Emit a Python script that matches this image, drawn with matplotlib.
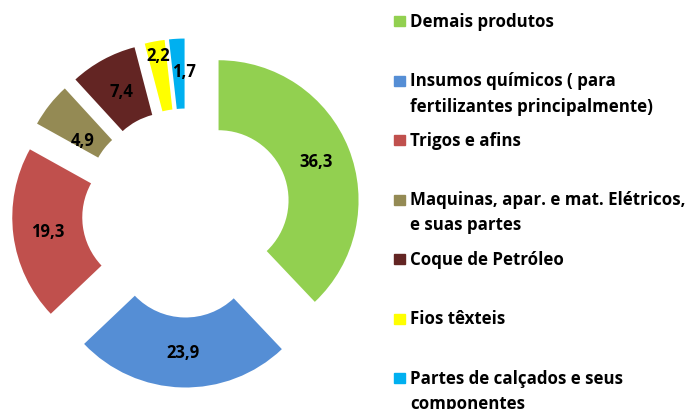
import numpy as np
import matplotlib.pyplot as plt
from matplotlib.patches import Rectangle

categorias = ["Demais produtos",
              "Insumos químicos ( para\nfertilizantes principalmente)",
              "Trigos e afins",
              "Maquinas, apar. e mat. Elétricos,\ne suas partes",
              "Coque de Petróleo",
              "Fios têxteis",
              "Partes de calçados e seus\ncomponentes"]
valores = [36.3, 23.9, 19.3, 4.9, 7.4, 2.2, 1.7]
cores = ["#92D050", "#558ED5", "#C0504D", "#948A54", "#632523", "#FFFF00", "#00B0F0"]

plt.rcParams['font.family'] = ['Open Sans', 'DejaVu Sans']

W, H = 690, 410
fig = plt.figure(figsize=(W / 100, H / 100), dpi=100)
ax = fig.add_axes([0, 0, 1, 1])

# donut explodido (unidades em pixels)
R, larg, expl = 140, 70, 34.5
centro = (186.5, H - 214)
wedges, _ = ax.pie(valores, colors=cores, radius=R, center=centro,
                   startangle=90, counterclock=False, explode=[expl] * len(valores),
                   wedgeprops=dict(width=larg, linewidth=0), frame=True)
ax.set_xlim(0, W)
ax.set_ylim(0, H)
ax.axis('off')

# rótulos no meio de cada fatia (deslocamentos em px para as fatias estreitas)
desloc = [(0, 0), (0, 0), (0, 0), (6, -13), (2, 0), (-3, 21), (5, 3)]
for w, v, (dx, dy) in zip(wedges, valores, desloc):
    ang = np.deg2rad((w.theta1 + w.theta2) / 2)
    rr = R - larg / 2
    x = w.center[0] + rr * np.cos(ang) + dx
    y = w.center[1] + rr * np.sin(ang) + dy
    ax.text(x, y, f"{v:.1f}".replace('.', ','), ha='center', va='center',
            fontsize=12, fontweight='bold', color='black')

# legenda desenhada à mão
y0, passo = 22, 59.5
for i, (cat, cor) in enumerate(zip(categorias, cores)):
    yc = y0 + i * passo
    fig.patches.append(Rectangle((394 / W, 1 - (yc + 5) / H), 11 / W, 10 / H,
                                 transform=fig.transFigure, color=cor))
    for j, linha in enumerate(cat.split("\n")):
        fig.text(410 / W, 1 - (yc + j * 25) / H, linha, ha='left', va='center',
                 fontsize=12.2, fontweight='bold', color='black')

plt.savefig('out.png', dpi=100)
plt.close()
